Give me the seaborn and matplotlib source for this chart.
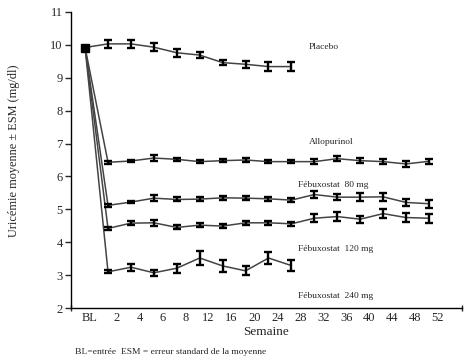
import matplotlib
matplotlib.use("Agg")
import matplotlib.pyplot as plt
import seaborn as sns
import numpy as np
import pandas as pd

weeks = ["BL", "2", "4", "6", "8", "12", "16", "20", "24", "28", "32", "36", "40", "44", "48", "52"]

placebo = [9.92, 10.03, 10.03, 9.93, 9.76, 9.69, 9.46, 9.41, 9.34, 9.34]
placebo_err = [0.0, 0.11, 0.11, 0.12, 0.12, 0.10, 0.08, 0.11, 0.13, 0.14]

allopurinol = [9.92, 6.43, 6.47, 6.56, 6.52, 6.45, 6.48, 6.50, 6.45, 6.45, 6.45, 6.54, 6.48, 6.45, 6.38, 6.46]
allopurinol_err = [0.0, 0.04, 0.04, 0.08, 0.05, 0.04, 0.04, 0.05, 0.05, 0.05, 0.08, 0.08, 0.07, 0.08, 0.08, 0.08]

febu80 = [9.92, 5.12, 5.22, 5.34, 5.30, 5.31, 5.35, 5.34, 5.32, 5.28, 5.45, 5.37, 5.37, 5.38, 5.21, 5.17]
febu80_err = [0.0, 0.05, 0.04, 0.10, 0.06, 0.07, 0.06, 0.06, 0.06, 0.06, 0.10, 0.10, 0.12, 0.12, 0.10, 0.12]

febu120 = [9.92, 4.42, 4.58, 4.59, 4.45, 4.52, 4.49, 4.59, 4.59, 4.56, 4.73, 4.78, 4.70, 4.87, 4.75, 4.73]
febu120_err = [0.0, 0.05, 0.07, 0.10, 0.06, 0.07, 0.06, 0.06, 0.06, 0.06, 0.13, 0.14, 0.11, 0.13, 0.13, 0.14]

febu240 = [9.92, 3.10, 3.24, 3.07, 3.21, 3.52, 3.28, 3.13, 3.52, 3.29]
febu240_err = [0.0, 0.05, 0.11, 0.09, 0.14, 0.22, 0.18, 0.14, 0.18, 0.18]

series = {
    "Placebo": (placebo, placebo_err),
    "Allopurinol": (allopurinol, allopurinol_err),
    "Fébuxostat 80 mg": (febu80, febu80_err),
    "Fébuxostat 120 mg": (febu120, febu120_err),
    "Fébuxostat 240 mg": (febu240, febu240_err),
}

rows = []
for name, (vals, errs) in series.items():
    for i, (v, e) in enumerate(zip(vals, errs)):
        rows.append({"group": name, "idx": i, "val": v, "err": e})
df = pd.DataFrame(rows)

sns.set_style("white")
plt.rcParams["font.family"] = ["Liberation Serif", "DejaVu Serif"]

fig = plt.figure(figsize=(4.72, 3.63), dpi=100)
ax = fig.add_axes([0.1504, 0.1515, 0.8284, 0.8155])

sns.lineplot(data=df, x="idx", y="val", hue="group",
             palette=["#444444"] * 5, linewidth=1.1, legend=False, ax=ax,
             errorbar=None, sort=False)

for name in series:
    sub = df[(df.group == name) & (df.idx > 0)]
    ax.errorbar(sub.idx, sub.val, yerr=sub.err, fmt="none", ecolor="black",
                elinewidth=1.7, capsize=3.0, capthick=1.7)

ax.plot([0], [9.92], marker="s", color="black", markersize=6, linestyle="none")

ax.set_xlim(-0.615, 16.44)
ax.set_ylim(2, 11)
ax.set_yticks(range(2, 12))
tick_pos = [0.2] + [i + 0.39 for i in range(1, 16)]
ax.set_xticks(tick_pos)
ax.set_xticklabels(weeks, fontsize=9)
ax.tick_params(axis="x", length=0, pad=3)
ax.tick_params(axis="y", length=4, width=1, direction="out", labelsize=9, pad=2, left=True)
ax.set_xticks([-0.615, 16.44], minor=True)
ax.tick_params(axis="x", which="minor", length=4, width=1, direction="inout", bottom=True)

for s in ["top", "right"]:
    ax.spines[s].set_visible(False)
for s in ["left", "bottom"]:
    ax.spines[s].set_color("black")
    ax.spines[s].set_linewidth(1.0)

ax.set_xlabel("Semaine", fontsize=9.5, labelpad=1)
ax.set_ylabel("Uricémie moyenne ± ESM (mg/dl)", fontsize=8.8)
ax.yaxis.set_label_coords(-0.13, 0.53)

lbl_kw = dict(fontsize=6.8, va="center", ha="left")
ax.text(9.76, 9.94, "Placebo", **lbl_kw)
ax.text(9.76, 7.05, "Allopurinol", **lbl_kw)
ax.text(9.28, 5.74, "Fébuxostat  80 mg", **lbl_kw)
ax.text(9.28, 3.79, "Fébuxostat  120 mg", **lbl_kw)
ax.text(9.28, 2.36, "Fébuxostat  240 mg", **lbl_kw)

fig.text(75 / 472, 1 - 352 / 363, "BL=entrée  ESM = erreur standard de la moyenne",
         fontsize=6.8, va="center", ha="left")

fig.savefig("out.png", dpi=100)
